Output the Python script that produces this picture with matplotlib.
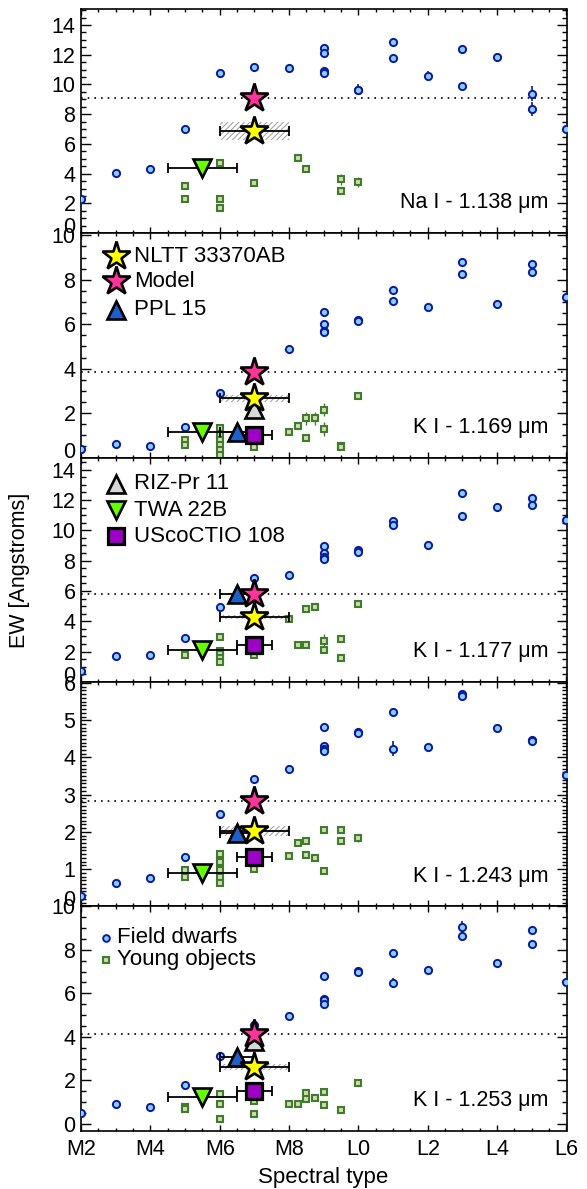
import matplotlib
matplotlib.use('Agg')
import matplotlib.pyplot as plt
import numpy as np
from matplotlib.ticker import MultipleLocator

plt.rcParams['font.family'] = ['Liberation Sans', 'DejaVu Sans']
plt.rcParams['hatch.linewidth'] = 0.7

# ---------------- data ----------------
spt_ticks = [2, 4, 6, 8, 10, 12, 14, 16]
spt_labels = ['M2', 'M4', 'M6', 'M8', 'L0', 'L2', 'L4', 'L6']
line_names = ['Na I - 1.138 \u03bcm', 'K I - 1.169 \u03bcm', 'K I - 1.177 \u03bcm',
              'K I - 1.243 \u03bcm', 'K I - 1.253 \u03bcm']

field_spt = [2, 3, 4, 5, 6, 7, 8, 9, 9, 9, 9, 10, 10, 11, 11, 12, 13, 13, 14, 15, 15, 16]
field_ew1 = [2.3, 4.07, 4.34, 7.03, 10.79, 11.19, 11.12, 12.43, 12.13, 10.9, 10.8, 9.66, 9.6,
             12.83, 11.75, 10.58, 12.36, 9.93, 11.84, 9.39, 8.34, 6.99]
field_ew2 = [0.39, 0.61, 0.54, 1.39, 2.91, 3.8, 4.87, 6.54, 6.0, 5.7, 5.64, 6.21, 6.15,
             7.56, 7.05, 6.76, 8.82, 8.25, 6.91, 8.73, 8.37, 7.23]
field_ew3 = [0.74, 1.69, 1.78, 2.9, 4.94, 6.82, 7.04, 8.97, 8.53, 8.22, 8.13, 8.68, 8.59,
             10.58, 10.38, 9.01, 12.44, 10.91, 11.51, 12.15, 11.69, 10.65]
field_ew4 = [0.29, 0.62, 0.75, 1.33, 2.48, 3.41, 3.70, 4.82, 4.30, 4.24, 4.17, 4.69, 4.65,
             5.21, 4.24, 4.29, 5.70, 5.65, 4.78, 4.47, 4.43, 3.54]
field_ew5 = [0.50, 0.89, 0.78, 1.76, 3.10, 4.53, 4.97, 6.80, 5.75, 5.69, 5.50, 7.02, 6.96,
             7.84, 6.47, 7.09, 9.07, 8.64, 7.37, 8.91, 8.27, 6.54]
field_err1 = [0.1, 0.1, 0.1, 0.1, 0.1, 0.1, 0.1, 0.15, 0.15, 0.1, 0.1, 0.35, 0.3,
              0.25, 0.15, 0.3, 0.3, 0.25, 0.3, 0.5, 0.45, 0.2]
field_err2 = [0.05, 0.05, 0.05, 0.05, 0.05, 0.05, 0.05, 0.1, 0.1, 0.1, 0.1, 0.1, 0.1,
              0.15, 0.1, 0.1, 0.15, 0.1, 0.2, 0.15, 0.15, 0.1]
field_err3 = [0.1, 0.1, 0.1, 0.1, 0.1, 0.1, 0.1, 0.15, 0.15, 0.1, 0.1, 0.1, 0.1,
              0.15, 0.1, 0.1, 0.15, 0.1, 0.1, 0.15, 0.15, 0.1]
field_err4 = [0.03, 0.03, 0.03, 0.03, 0.03, 0.03, 0.03, 0.05, 0.05, 0.05, 0.05, 0.05, 0.05,
              0.05, 0.2, 0.05, 0.1, 0.1, 0.05, 0.05, 0.05, 0.05]
field_err5 = [0.05, 0.05, 0.05, 0.05, 0.05, 0.05, 0.05, 0.1, 0.1, 0.1, 0.1, 0.1, 0.1,
              0.1, 0.25, 0.15, 0.25, 0.2, 0.1, 0.2, 0.2, 0.1]

young_spt1 = [5, 5, 6, 6, 6, 7, 8.25, 8.5, 9.5, 9.5, 10]
young_ew1 = [3.17, 2.27, 4.72, 2.31, 1.69, 3.37, 5.06, 4.31, 3.62, 2.83, 3.44]
young_err1 = [0.1, 0.1, 0.1, 0.1, 0.1, 0.1, 0.1, 0.1, 0.35, 0.1, 0.35]
young_spt2 = [5, 5, 6, 6, 6, 6, 6, 6, 7, 8, 8.25, 8.5, 8.5, 8.75, 9, 9, 9.5, 9.5, 10]
young_ew2 = [0.79, 0.57, 1.32, 1.02, 0.79, 0.57, 0.34, 0.12, 0.47, 1.14, 1.40, 1.76, 0.90,
             1.76, 2.15, 1.28, 0.54, 0.46, 2.79]
young_err2 = [0.05, 0.05, 0.05, 0.05, 0.05, 0.05, 0.05, 0.05, 0.05, 0.05, 0.05, 0.3, 0.05,
              0.3, 0.3, 0.3, 0.05, 0.05, 0.05]
young_spt3 = [5, 6, 6, 6, 6, 6, 7, 8, 8.25, 8.5, 8.5, 8.75, 9, 9, 9.5, 9.5, 10]
young_ew3 = [1.78, 2.99, 2.06, 1.84, 1.58, 1.29, 1.78, 4.12, 2.46, 4.83, 2.46, 4.94, 2.73,
             2.13, 2.84, 1.56, 5.16]
young_err3 = [0.1, 0.1, 0.1, 0.1, 0.1, 0.1, 0.1, 0.1, 0.1, 0.1, 0.1, 0.15, 0.4, 0.1, 0.1,
              0.1, 0.1]
young_spt4 = [5, 5, 6, 6, 6, 6, 6, 7, 8, 8.25, 8.5, 8.5, 8.75, 9, 9, 9.5, 9.5, 10]
young_ew4 = [0.98, 0.80, 1.40, 1.18, 0.98, 0.80, 0.62, 1.00, 1.35, 1.71, 1.76, 1.38, 1.29,
             2.05, 0.95, 2.05, 1.76, 1.84]
young_err4 = [0.03, 0.03, 0.03, 0.03, 0.03, 0.03, 0.03, 0.03, 0.03, 0.03, 0.03, 0.03, 0.03,
              0.03, 0.03, 0.03, 0.03, 0.1]
young_spt5 = [5, 5, 6, 6, 6, 7, 7, 8, 8.25, 8.5, 8.5, 8.75, 9, 9, 9.5, 10]
young_ew5 = [0.78, 0.66, 1.39, 0.89, 0.24, 1.04, 0.47, 0.89, 0.93, 1.42, 1.12, 1.19, 1.45,
             0.86, 0.61, 1.88]
young_err5 = [0.05, 0.05, 0.05, 0.05, 0.05, 0.05, 0.05, 0.05, 0.05, 0.05, 0.05, 0.05, 0.1,
              0.1, 0.05, 0.05]

nltt_spt, nltt_spt_err = 7.0, 1.0
nltt_ew = [6.87, 2.67, 4.28, 2.03, 2.61]
nltt_ew_err = [0.62, 0.15, 0.15, 0.14, 0.15]
model_spt = 7.0
model_ew = [9.1, 3.87, 5.78, 2.82, 4.15]
ppl_spt, ppl_spt_err = 6.5, 0.5
ppl_ew = [np.nan, 1.14, 5.78, 1.98, 3.07]
riz_spt = 7.0
riz_ew = [np.nan, 2.2, np.nan, np.nan, 3.79]
twa_spt, twa_spt_err = 5.5, 1.0
twa_ew = [4.38, 1.14, 2.11, 0.90, 1.24]
usco_spt, usco_spt_err = 7.0, 0.5
usco_ew = [np.nan, 1.02, 2.46, 1.33, 1.50]

field_ews = [field_ew1, field_ew2, field_ew3, field_ew4, field_ew5]
field_errs = [field_err1, field_err2, field_err3, field_err4, field_err5]
young_spts = [young_spt1, young_spt2, young_spt3, young_spt4, young_spt5]
young_ews = [young_ew1, young_ew2, young_ew3, young_ew4, young_ew5]
young_errs = [young_err1, young_err2, young_err3, young_err4, young_err5]

ylims = [(0, 15.1), (0, 10.1), (0, 14.8), (0, 6.03), (-0.32, 10.0)]
ymajor = [[0, 2, 4, 6, 8, 10, 12, 14], [0, 2, 4, 6, 8, 10], [0, 2, 4, 6, 8, 10, 12, 14],
          [0, 1, 2, 3, 4, 5, 6], [0, 2, 4, 6, 8, 10]]
yminor = [0.5, 0.5, 0.5, 0.1, 0.5]

# ---------------- styles ----------------
c_field_f, c_field_e = '#87cefa', '#0b1a9c'
c_young_f, c_young_e = '#d3dab0', '#3f7d2c'
c_yellow, c_pink, c_ppl, c_riz, c_twa, c_usco = '#ffff00', '#ff3399', '#1f5fcc', '#d8d8d8', '#66ff00', '#9f00c8'
FMS, YMS, SMS, TMS = 5.2, 4.8, 21, 13

W, H = 587, 1189
fig = plt.figure(figsize=(W / 100, H / 100), dpi=100)
left_px, right_px = 81, 566.5
top_px, bot_px = 8.7, 1130.7
ph = (bot_px - top_px) / 5

axes = []
for i in range(5):
    t = top_px + i * ph
    ax = fig.add_axes([left_px / W, 1 - (t + ph) / H, (right_px - left_px) / W, ph / H])
    axes.append(ax)

star_kw = dict(marker='*', ms=SMS, mec='black', mew=1.9, ls='none')
for i, ax in enumerate(axes):
    ax.set_xlim(2, 16)
    ax.set_ylim(*ylims[i])
    # field dwarfs
    ax.errorbar(field_spt, field_ews[i], yerr=field_errs[i], fmt='o', ms=FMS,
                mfc=c_field_f, mec=c_field_e, mew=1.4, ecolor=c_field_e,
                elinewidth=1.2, capsize=0, zorder=3)
    # young objects
    ax.errorbar(young_spts[i], young_ews[i], yerr=young_errs[i], fmt='s', ms=YMS,
                mfc=c_young_f, mec=c_young_e, mew=1.5, ecolor=c_young_e,
                elinewidth=1.0, capsize=0, zorder=3)
    # model line
    ax.axhline(model_ew[i], color='black', lw=1.2, ls=(0, (1, 3)), zorder=2)
    # NLTT hatched band
    ax.fill_between([nltt_spt - nltt_spt_err, nltt_spt + nltt_spt_err],
                    nltt_ew[i] - nltt_ew_err[i], nltt_ew[i] + nltt_ew_err[i],
                    facecolor='none', edgecolor='#9a9a9a', hatch='//////', lw=0, zorder=4)
    eb = dict(fmt='none', ecolor='black', elinewidth=1.3, capsize=3.5, capthick=1.3, zorder=5)
    # TWA 22B
    ax.errorbar([twa_spt], [twa_ew[i]], xerr=[twa_spt_err], **eb)
    ax.plot([twa_spt], [twa_ew[i]], marker='v', ms=TMS, mfc=c_twa, mec='black', mew=1.9,
            ls='none', zorder=6)
    # UScoCTIO 108
    if not np.isnan(usco_ew[i]):
        ax.errorbar([usco_spt], [usco_ew[i]], xerr=[usco_spt_err], **eb)
        ax.plot([usco_spt], [usco_ew[i]], marker='s', ms=12, mfc=c_usco, mec='black',
                mew=2.3, ls='none', zorder=6)
    # PPL 15
    if not np.isnan(ppl_ew[i]):
        ax.errorbar([ppl_spt], [ppl_ew[i]], xerr=[ppl_spt_err], **eb)
        ax.plot([ppl_spt], [ppl_ew[i]], marker='^', ms=TMS, mfc=c_ppl, mec='black',
                mew=1.9, ls='none', zorder=6)
    # RIZ-Pr 11
    if not np.isnan(riz_ew[i]):
        ax.plot([riz_spt], [riz_ew[i]], marker='^', ms=TMS, mfc=c_riz, mec='black',
                mew=1.9, ls='none', zorder=6)
    # NLTT 33370AB
    ax.errorbar([nltt_spt], [nltt_ew[i]], xerr=[nltt_spt_err], **eb)
    ax.plot([nltt_spt], [nltt_ew[i]], mfc=c_yellow, zorder=7, **star_kw)
    # model
    ax.plot([model_spt], [model_ew[i]], mfc=c_pink, zorder=8, **star_kw)

    ax.text(0.962, 0.135, line_names[i], transform=ax.transAxes, ha='right', va='center',
            fontsize=15.5, zorder=10)

    # ticks
    ax.set_xticks(spt_ticks)
    ax.xaxis.set_minor_locator(MultipleLocator(0.5))
    ax.set_yticks(ymajor[i])
    ax.yaxis.set_minor_locator(MultipleLocator(yminor[i]))
    ax.tick_params(which='both', direction='in', top=True, right=True, width=1.0)
    ax.tick_params(axis='x', which='major', length=4, pad=6)
    ax.tick_params(axis='x', which='minor', length=2)
    ax.tick_params(axis='y', which='major', length=7, pad=4, labelsize=15.5)
    ax.tick_params(axis='y', which='minor', length=3.5)
    if i < 4:
        ax.set_xticklabels([])
        ax.get_yaxis().get_major_ticks()[0].label1.set_verticalalignment('baseline')
    else:
        ax.set_xticklabels(spt_labels, fontsize=15.5)
    for sp in ax.spines.values():
        sp.set_linewidth(1.2)

# legends (manual)
ax = axes[1]
leg2 = [('NLTT 33370AB', '*', c_yellow, 0.897), ('Model', '*', c_pink, 0.786),
        ('PPL 15', '^', c_ppl, 0.659)]
for name, mk, col, yy in leg2:
    if mk == '*':
        ax.plot([0.072], [yy], transform=ax.transAxes, mfc=col, clip_on=False, zorder=9, **star_kw)
    else:
        ax.plot([0.072], [yy], transform=ax.transAxes, marker=mk, ms=TMS, mfc=col,
                mec='black', mew=1.9, ls='none', zorder=9)
    ax.text(0.109, yy, name, transform=ax.transAxes, va='center', ha='left', fontsize=16)

ax = axes[2]
leg3 = [('RIZ-Pr 11', '^', c_riz, 0.884, TMS, 1.9), ('TWA 22B', 'v', c_twa, 0.765, TMS, 1.9),
        ('UScoCTIO 108', 's', c_usco, 0.648, 12, 2.3)]
for name, mk, col, yy, ms, mew in leg3:
    ax.plot([0.072], [yy], transform=ax.transAxes, marker=mk, ms=ms, mfc=col,
            mec='black', mew=mew, ls='none', zorder=9)
    ax.text(0.109, yy, name, transform=ax.transAxes, va='center', ha='left', fontsize=16)

ax = axes[4]
ax.plot([0.051], [0.859], transform=ax.transAxes, marker='o', ms=FMS - 0.4, mfc=c_field_f,
        mec=c_field_e, mew=1.4, ls='none', zorder=9)
ax.text(0.075, 0.862, 'Field dwarfs', transform=ax.transAxes, va='center', ha='left', fontsize=16)
ax.plot([0.051], [0.759], transform=ax.transAxes, marker='s', ms=YMS - 0.4, mfc=c_young_f,
        mec=c_young_e, mew=1.5, ls='none', zorder=9)
ax.text(0.075, 0.762, 'Young objects', transform=ax.transAxes, va='center', ha='left', fontsize=16)

fig.text(20 / W, 1 - 570 / H, 'EW [Angstroms]', rotation=90, ha='center', va='center', fontsize=15.5)
fig.text(323.5 / W, 1 - 1177 / H, 'Spectral type', ha='center', va='center', fontsize=16)

fig.savefig('out.png', dpi=100)
